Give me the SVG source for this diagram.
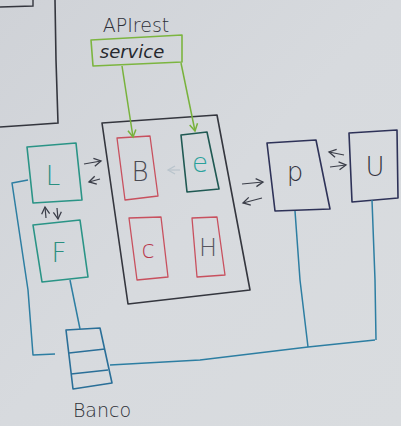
<svg xmlns="http://www.w3.org/2000/svg" width="401" height="426" viewBox="0 0 401 426">
<defs>
<linearGradient id="paper" x1="0" y1="0" x2="1" y2="1">
<stop offset="0" stop-color="#cfd2d7"/>
<stop offset="0.5" stop-color="#d7dade"/>
<stop offset="1" stop-color="#d9dcdf"/>
</linearGradient>
<marker id="ga" markerWidth="10" markerHeight="10" refX="8" refY="5" orient="auto" markerUnits="userSpaceOnUse">
<path d="M1,1 L8,5 L1,9" fill="none" stroke="#78b23c" stroke-width="1.5"/>
</marker>
<marker id="ka" markerWidth="10" markerHeight="10" refX="8" refY="5" orient="auto" markerUnits="userSpaceOnUse">
<path d="M1,1 L8,5 L1,9" fill="none" stroke="#3a3d48" stroke-width="1.3"/>
</marker>
<marker id="fa" markerWidth="10" markerHeight="10" refX="8" refY="5" orient="auto" markerUnits="userSpaceOnUse">
<path d="M1,1 L8,5 L1,9" fill="none" stroke="#b9c4cc" stroke-width="1.3"/>
</marker>
</defs>
<style>
.box{fill:none;stroke-linejoin:round;stroke-width:1.6}
.teal{stroke:#2a9486}
.red{stroke:#c8505e;stroke-width:1.3}
.navy{stroke:#2e3258}
.blk{stroke:#34363e}
.grn{stroke:#7cb540}
.wire{fill:none;stroke:#2d7ea2;stroke-width:1.5;stroke-linejoin:round}
.arr{fill:none;stroke:#3a3d48;stroke-width:1.2}
.t{font-family:"DejaVu Sans","Liberation Sans",sans-serif;font-weight:300;text-anchor:middle}
</style>
<rect width="401" height="426" fill="url(#paper)"/>

<g id="sketch-corner">
<path d="M0,127 L30,125 L58,123 L56,60 L55,0" fill="none" stroke="#34363e" stroke-width="1.6"/>
<path d="M0,7 L33,6 L33,0" fill="none" stroke="#34363e" stroke-width="1.4"/>
</g>

<g id="api-label">
<text class="t" x="136" y="32" font-size="19" fill="#2e3038">APIrest</text>
</g>

<g id="service">
<path class="box grn" d="M91,40 L182,35 L182,62 L93,66 Z"/>
<text class="t" x="132" y="58" font-size="18" font-style="italic" fill="#26282e">service</text>
</g>

<g id="container">
<path class="box blk" d="M102,123 L217,115 L250,290 L128,304 Z"/>
</g>

<g id="B">
<path class="box red" d="M117,138 L150,136 L158,196 L125,200 Z"/>
<text class="t" x="140" y="181" font-size="26" fill="#4a4a52">B</text>
</g>

<g id="e">
<path class="box" stroke="#1f5953" stroke-width="2.2" d="M181,135 L207,132 L219,189 L187,192 Z"/>
<text class="t" x="200" y="172" font-size="26" fill="#2aa19b">e</text>
</g>

<g id="c">
<path class="box red" d="M129,218 L161,217 L168,277 L137,280 Z"/>
<text class="t" x="148" y="258" font-size="24" fill="#b8364a">c</text>
</g>

<g id="H">
<path class="box red" d="M192,218 L217,217 L225,275 L197,277 Z"/>
<text class="t" x="208" y="256" font-size="24" fill="#55555e">H</text>
</g>

<g id="L">
<path class="box teal" d="M27,147 L76,143 L82,200 L33,203 Z"/>
<text class="t" x="53" y="185" font-size="26" fill="#2a8f80">L</text>
</g>

<g id="F">
<path class="box teal" d="M33,225 L80,220 L88,277 L42,282 Z"/>
<text class="t" x="59" y="262" font-size="26" fill="#2a8f80">F</text>
</g>

<g id="P">
<path class="box navy" d="M267,143 L316,140 L330,209 L275,211 Z"/>
<text class="t" x="295" y="181" font-size="26" fill="#33343e">p</text>
</g>

<g id="U">
<path class="box navy" d="M349,133 L397,130 L398,198 L352,202 Z"/>
<text class="t" x="375" y="176" font-size="26" fill="#33343e">U</text>
</g>

<g id="Banco">
<path class="box" stroke="#2a6f98" stroke-width="1.6" d="M66,330 L100,328 L112,383 L73,389 Z"/>
<path d="M69,353 L105,349 M71,374 L108,370" fill="none" stroke="#2a6f98" stroke-width="1.5"/>
<text class="t" x="102" y="417" font-size="19" fill="#2e3038">Banco</text>
</g>

<g id="connectors">
<path d="M122,66 L133,137" fill="none" stroke="#78b23c" stroke-width="1.5" marker-end="url(#ga)"/>
<path d="M181,63 L195,131" fill="none" stroke="#78b23c" stroke-width="1.5" marker-end="url(#ga)"/>
<path class="arr" d="M84,164 L101,161" marker-end="url(#ka)"/>
<path class="arr" d="M100,179 L89,182" marker-end="url(#ka)"/>
<path class="arr" d="M46,218 L45,207" marker-end="url(#ka)"/>
<path class="arr" d="M57,208 L58,219" marker-end="url(#ka)"/>
<path class="arr" d="M242,184 L263,182" marker-end="url(#ka)"/>
<path class="arr" d="M262,198 L243,203" marker-end="url(#ka)"/>
<path class="arr" d="M344,155 L329,152" marker-end="url(#ka)"/>
<path class="arr" d="M330,167 L346,165" marker-end="url(#ka)"/>
<path d="M180,170 L168,170" fill="none" stroke="#b9c4cc" stroke-width="1.2" marker-end="url(#fa)"/>
<path class="wire" d="M28,180 L12,183 L28,290 L33,355 L55,354"/>
<path class="wire" d="M70,280 L80,329"/>
<path class="wire" d="M110,365 L200,360 L308,347 L375,340"/>
<path class="wire" d="M295,211 L300,280 L308,347"/>
<path class="wire" d="M372,200 L375,280 L376,340"/>
</g>
</svg>
